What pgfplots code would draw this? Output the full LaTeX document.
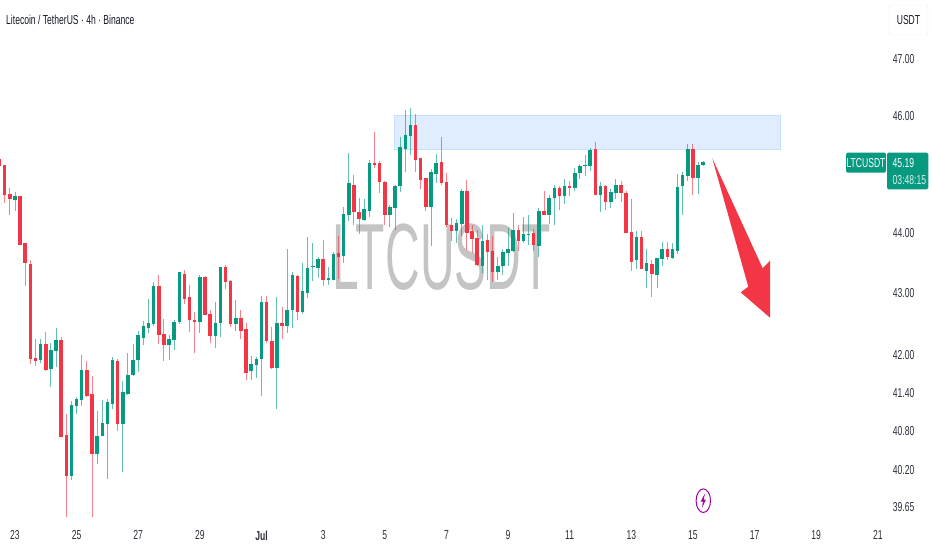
\documentclass[border=0pt]{standalone}
\usepackage{fontspec}
\setmainfont[FakeStretch=0.66]{Liberation Sans}
\usepackage{graphicx}
\usepackage{pgfplots}
\usepackage{pgfplotstable}
\pgfplotsset{compat=1.18}
\definecolor{tvg}{HTML}{089981}
\definecolor{tvr}{HTML}{F23645}
\definecolor{txt}{HTML}{131722}
\pgfplotstableread{
k o h l c
3 44.55 44.69 44.36 44.61
8 41.92 42.25 41.87 42.18
10 41.78 42.20 41.49 42.08
11 42.07 42.43 41.81 42.24
14 40.11 41.27 40.05 41.21
15 41.19 41.34 41.07 41.30
16 41.28 42.00 41.20 41.76
19 40.44 41.11 40.30 40.73
20 40.73 41.28 40.73 40.93
21 40.92 41.30 40.06 41.25
22 41.23 41.96 41.14 41.92
24 40.92 41.58 40.17 41.41
25 41.39 42.04 41.38 41.69
26 41.69 42.17 41.66 41.92
27 41.92 42.39 41.73 42.32
28 42.27 42.54 42.16 42.47
29 42.43 42.91 42.36 42.51
30 42.49 43.19 42.47 43.12
33 42.16 42.32 41.92 42.26
34 42.24 42.57 42.08 42.53
35 42.53 43.34 42.49 43.34
39 42.53 43.30 42.36 43.26
42 42.31 42.86 42.12 42.52
43 42.51 43.43 42.28 43.43
46 42.49 42.88 42.39 42.60
49 41.74 41.98 41.61 41.86
50 41.84 41.97 41.64 41.93
51 41.94 42.95 41.35 42.86
54 41.79 42.94 41.15 42.52
56 42.47 43.72 42.36 42.72
57 42.72 43.35 42.44 43.29
59 42.70 43.49 42.66 43.03
60 43.01 43.93 42.92 43.42
61 43.43 43.83 43.20 43.44
62 43.41 43.60 43.24 43.56
64 43.22 43.43 43.13 43.25
65 43.22 43.67 43.22 43.64
67 43.61 44.43 43.49 44.31
68 44.29 45.35 44.19 44.83
71 44.21 44.56 44.20 44.39
72 44.37 45.24 44.26 45.18
76 44.29 44.47 44.10 44.43
77 44.42 44.81 44.04 44.79
78 44.78 45.63 44.68 45.46
79 45.43 46.10 45.02 45.67
80 45.65 46.13 45.31 45.83
84 44.43 45.07 43.78 45.02
85 45.00 45.34 44.84 45.18
89 44.03 44.23 43.82 44.17
90 44.15 44.74 43.95 44.71
94 43.45 44.12 43.33 43.86
97 43.34 43.60 43.22 43.44
98 43.44 43.72 43.29 43.68
99 43.66 44.08 43.44 43.72
100 43.70 44.33 43.69 44.05
102 43.86 44.26 43.83 43.97
103 43.96 44.30 43.80 43.97
105 43.78 44.41 43.60 44.37
107 44.29 44.64 44.15 44.59
108 44.58 44.81 44.13 44.75
110 44.61 44.91 44.49 44.79
112 44.76 45.09 44.70 45.01
113 45.01 45.16 44.90 45.13
114 45.14 45.32 44.96 45.15
115 45.13 45.44 45.04 45.41
117 44.63 44.85 44.34 44.79
119 44.51 44.74 44.41 44.69
120 44.67 44.91 44.56 44.81
124 43.54 44.02 43.39 43.92
126 43.36 43.72 43.09 43.50
128 43.30 43.58 43.09 43.58
129 43.56 43.85 43.44 43.72
131 43.58 43.83 43.56 43.72
132 43.70 44.99 43.64 44.77
133 44.78 45.02 44.29 44.97
134 44.96 45.50 44.88 45.42
136 44.92 45.20 44.65 45.15
137 45.14 45.21 45.13 45.19
}\greencandles
\pgfplotstableread{
k o h l c
0 45.25 45.84 45.09 45.13
1 45.15 45.15 44.50 44.64
2 44.65 44.75 44.29 44.56
4 44.61 44.62 43.79 43.80
5 43.82 43.82 43.12 43.49
6 43.48 43.54 41.86 41.94
7 41.95 42.25 41.82 41.90
9 42.18 42.37 41.75 41.76
12 42.24 42.29 40.71 40.71
13 40.75 41.07 39.49 40.11
17 41.76 41.91 41.33 41.35
18 41.39 41.67 39.49 40.44
23 41.90 41.93 40.81 40.92
31 43.12 43.30 42.18 42.32
32 42.34 42.58 41.90 42.16
36 43.32 43.38 42.83 42.91
37 42.93 43.14 42.37 42.56
38 42.57 42.69 42.03 42.53
40 43.26 43.28 42.65 42.65
41 42.66 42.72 42.20 42.31
44 43.43 43.46 43.06 43.19
45 43.20 43.22 42.45 42.49
47 42.60 42.72 42.26 42.39
48 42.42 42.52 41.60 41.71
52 42.86 42.95 42.19 42.22
53 42.22 42.45 41.78 41.79
55 42.52 42.77 42.26 42.47
58 43.28 43.29 42.56 42.70
63 43.56 43.87 43.11 43.22
66 43.66 43.94 43.23 43.60
69 44.81 44.97 44.13 44.35
70 44.35 44.59 43.97 44.23
73 45.18 45.71 45.10 45.15
74 45.18 45.21 44.67 44.85
75 44.85 44.87 44.13 44.29
81 45.83 46.03 45.02 45.24
82 45.26 45.26 44.74 44.89
83 44.92 44.92 44.36 44.43
86 45.20 45.63 44.81 44.83
87 44.85 45.01 44.10 44.12
88 44.13 44.25 43.86 44.03
91 44.71 44.89 43.71 43.99
92 44.03 44.12 43.66 43.90
93 43.91 44.04 43.45 43.46
95 43.87 43.97 43.21 43.67
96 43.70 43.95 43.19 43.34
101 44.05 44.13 43.69 43.86
104 43.99 44.06 43.70 43.80
106 44.37 44.71 44.29 44.29
109 44.75 44.78 44.38 44.61
111 44.78 44.87 44.61 44.75
116 45.42 45.54 44.64 44.64
118 44.79 44.80 44.38 44.52
121 44.81 44.88 44.51 44.66
122 44.66 44.71 43.99 43.99
123 44.01 44.56 43.37 43.52
125 43.92 44.02 43.39 43.39
127 43.48 43.54 42.94 43.31
130 43.72 43.85 43.55 43.60
135 45.42 45.50 44.64 44.92
}\redcandles
\newcommand{\wicks}[2]{%
\addplot[draw=none,forget plot,error bars/.cd,y dir=both,y explicit,error mark=none,
 error bar style={draw=#2,line width=0.95pt,draw opacity=0.62}]
 table[x=k,y=o,y error plus expr={\thisrow{h}-\thisrow{o}},y error minus expr={\thisrow{o}-\thisrow{l}}]{#1};}
\newcommand{\bodies}[2]{%
\addplot[draw=none,forget plot,error bars/.cd,y dir=both,y explicit,error mark=none,
 error bar style={draw=#2,line width=3.5pt}]
 table[x=k,y=o,y error plus expr={max(\thisrow{o},\thisrow{c})-\thisrow{o}},y error minus expr={\thisrow{o}-min(\thisrow{o},\thisrow{c})}]{#1};}
\newcommand{\tvfont}{\fontsize{13}{14}\selectfont}
\begin{document}
\begin{tikzpicture}[x=1pt,y=1pt]
\path[use as bounding box] (0,0) rectangle (932,550);
\begin{axis}[
 at={(0pt,27pt)},anchor=south west,
 scale only axis,width=884pt,height=523pt,
 xmin=0.084,xmax=172.2,
 ymode=log,ymin=39.41,ymax=48.07,
 axis line style={draw=none},
 major tick length=0pt,minor tick length=0pt,
 xtick={3,15,27,39,51,63,75,87,99,111,123,135,147,159,171},
 xticklabels={23,25,27,29,\textbf{Jul},3,5,7,9,11,13,15,17,19,21},
 ytick={47,46,44,43,42,41.4,40.8,40.2,39.65},
 yticklabels={47.00,46.00,44.00,43.00,42.00,41.40,40.80,40.20,39.65},
 yticklabel pos=right,
 ticklabel style={font=\tvfont,text=txt!90},
 yticklabel style={anchor=west,xshift=8.7pt,inner xsep=0pt},
 xticklabel style={anchor=center,yshift=-12.5pt},
 clip=true,
]
\node[text=black!23,inner sep=0pt] at (axis cs:86.1,43.59) {\scalebox{0.774}[1]{\fontsize{94}{94}\selectfont LTCUSDT}};
\fill[fill=blue!60!cyan!12,draw=blue!55!cyan!22,line width=1pt] (axis cs:76.8,45.41) rectangle (axis cs:152,46.0);
\wicks{\greencandles}{tvg}
\wicks{\redcandles}{tvr}
\bodies{\greencandles}{tvg}
\bodies{\redcandles}{tvr}
\end{axis}
% annotations
\fill[tvr] (712.3,391.7) -- (762.7,281.7) -- (770,289.3) -- (770,232.3) -- (740.7,257.7) -- (748.3,263.3) -- cycle;
\node[anchor=west,inner sep=0pt,text=txt] at (6,530) {\tvfont Litecoin / TetherUS · 4h · Binance};
\draw[black!7,fill=white,rounded corners=3pt] (889,515) rectangle (928,545);
\node[text=txt,inner sep=0pt] at (908.5,530) {\tvfont USDT};
\fill[tvg,rounded corners=1.5pt] (846,377.3) rectangle (886,397.3);
\fill[tvg,rounded corners=1.5pt] (887,360.7) rectangle (928.3,397.3);
\node[text=white,inner sep=0pt] at (866,387.3) {\tvfont LTCUSDT};
\node[text=white,inner sep=0pt,anchor=west] at (892.5,387.3) {\tvfont 45.19};
\node[text=white!85!tvg,inner sep=0pt,anchor=west] at (892.5,369.7) {\tvfont 03:48:15};
\draw[color=violet!70!magenta,line width=1pt] (703.3,49.3) ellipse (7.2 and 11.8);
\fill[violet!70!magenta] (705,56.5) -- (700.6,48.5) -- (703,48.5) -- (702,42) -- (706,50.5) -- (703.7,50.5) -- cycle;
\end{tikzpicture}
\end{document}
